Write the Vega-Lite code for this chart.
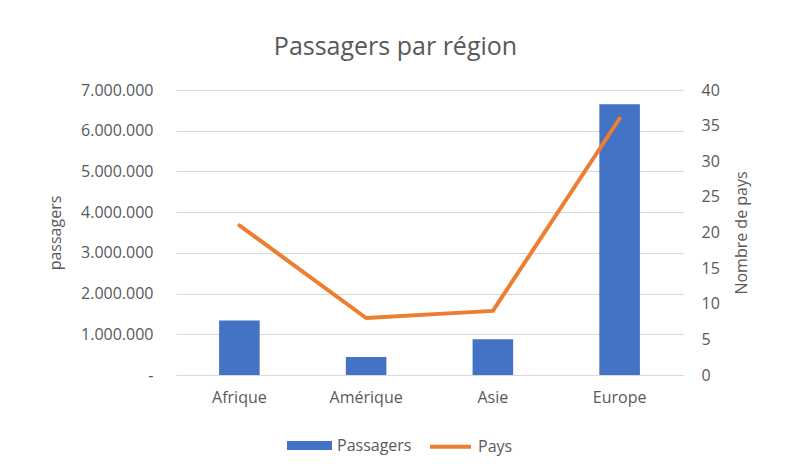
{
  "$schema": "https://vega.github.io/schema/vega-lite/v6.json",
  "autosize": "none",
  "width": 507,
  "height": 285,
  "padding": {"left": 176, "top": 90, "right": 103, "bottom": 91},
  "background": "white",
  "config": {
    "font": "Open Sans",
    "view": {"stroke": null},
    "axis": {"labelColor": "#595959", "titleColor": "#595959", "labelFont": "Open Sans", "titleFont": "Open Sans", "labelFontSize": 16, "titleFontSize": 16, "titleFontWeight": "normal", "domain": false, "ticks": false},
    "legend": {"labelColor": "#595959", "labelFont": "Open Sans", "labelFontSize": 16}
  },
  "title": {"text": "Passagers par région", "fontSize": 25, "font": "Open Sans", "fontWeight": "normal", "color": "#595959", "anchor": "middle", "frame": "group", "dx": -34, "offset": 22},
  "data": {"values": [
    {"region": "Afrique", "passagers": 1340000, "pays": 21},
    {"region": "Amérique", "passagers": 440000, "pays": 8},
    {"region": "Asie", "passagers": 880000, "pays": 9},
    {"region": "Europe", "passagers": 6650000, "pays": 36}
  ]},
  "encoding": {
    "x": {"field": "region", "type": "nominal", "sort": null, "scale": {"paddingInner": 0, "paddingOuter": 0},
      "axis": {"title": null, "labelAngle": 0, "labelPadding": 14, "grid": false}}
  },
  "layer": [
    {
      "mark": {"type": "bar", "width": {"band": 0.32}},
      "encoding": {
        "y": {"field": "passagers", "type": "quantitative", "scale": {"domain": [0, 7000000]},
          "axis": {"title": "passagers", "values": [0,1000000,2000000,3000000,4000000,5000000,6000000,7000000], "labelExpr": "datum.value == 0 ? '-' : (round(datum.value / 1000000) + '.000.000')", "grid": true, "gridColor": "#D9D9D9", "gridWidth": 1, "labelPadding": 23, "titlePadding": 17,
            "encode": {"labels": {"update": {"dx": {"signal": "datum.value == 0 ? -8 : 0"}}}}}},
        "color": {"datum": "Passagers", "type": "nominal",
          "scale": {"domain": ["Passagers", "Pays"], "range": ["#4472C4", "#ED7D31"]},
          "legend": {"title": null, "orient": "none", "direction": "horizontal", "legendX": 111, "legendY": 333, "symbolSize": 1681, "columnPadding": 10, "labelOffset": 5,
            "encode": {"symbols": {"update": {
              "shape": {"signal": "datum.value == 'Pays' ? 'M-1,0H1' : 'M-1,-0.12H1V0.12H-1Z'"},
              "fill": {"signal": "datum.value == 'Pays' ? 'transparent' : '#4472C4'"},
              "stroke": {"signal": "datum.value == 'Pays' ? '#ED7D31' : 'transparent'"},
              "strokeWidth": {"value": 4},
              "opacity": {"value": 1}
            }}}}}
      }
    },
    {
      "mark": {"type": "line", "strokeWidth": 4, "strokeCap": "round", "strokeJoin": "round"},
      "encoding": {
        "y": {"field": "pays", "type": "quantitative", "scale": {"domain": [0, 40]},
          "axis": {"orient": "right", "title": "Nombre de pays", "titleAngle": 270, "titleBaseline": "top", "values": [0,5,10,15,20,25,30,35,40], "grid": false, "labelPadding": 18, "titlePadding": 14}},
        "color": {"datum": "Pays", "type": "nominal"}
      }
    }
  ],
  "resolve": {"scale": {"y": "independent"}}
}
